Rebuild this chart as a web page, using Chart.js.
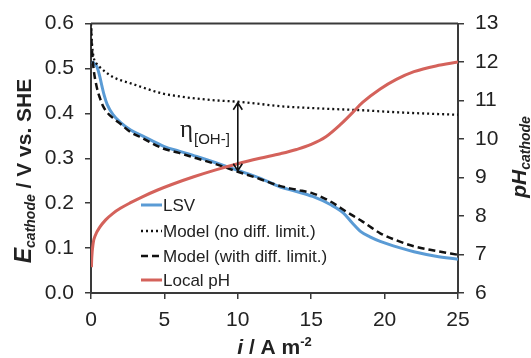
<!DOCTYPE html>
<html>
<head>
<meta charset="utf-8">
<script src="https://cdn.jsdelivr.net/npm/chart.js@4/dist/chart.umd.min.js"></script>
<style>
  body { margin: 0; background: #fff; }
  #wrap { width: 531px; height: 358px; }
</style>
</head>
<body>
<div id="wrap"><canvas id="chart" width="531" height="358"></canvas></div>
<script>
// ---------- data ----------
const xTicks = [0, 5, 10, 15, 20, 25];
const eTicks = [0, 0.1, 0.2, 0.3, 0.4, 0.5, 0.6];
const phTicks = [6, 7, 8, 9, 10, 11, 12, 13];

const lsvX = [0.05, 0.2, 0.4, 0.6, 0.75, 0.9, 1.1, 1.5, 2, 2.7, 3.5, 5, 6, 7.2, 8.5, 10, 11.5, 12.9, 14, 15.1, 16.3, 17.2, 17.8, 18.4, 19, 19.7, 21, 22, 23.5, 25];
const lsvY = [0.515, 0.512, 0.504, 0.482, 0.46, 0.44, 0.42, 0.397, 0.38, 0.363, 0.35, 0.326, 0.316, 0.304, 0.29, 0.273, 0.256, 0.236, 0.226, 0.215, 0.197, 0.178, 0.156, 0.136, 0.125, 0.115, 0.101, 0.092, 0.082, 0.075];

const noLimX = [0, 0.03, 0.08, 0.15, 0.25, 0.4, 0.6, 1, 1.5, 2, 2.7, 3.5, 4.9, 6, 7.2, 8.5, 10, 11.5, 12.9, 15, 17, 18.5, 20, 22.5, 25];
const noLimY = [0.6, 0.575, 0.55, 0.53, 0.517, 0.51, 0.503, 0.492, 0.481, 0.474, 0.467, 0.458, 0.444, 0.438, 0.433, 0.429, 0.426, 0.421, 0.416, 0.412, 0.409, 0.407, 0.404, 0.4, 0.397];

const withLimX = [0, 0.05, 0.16, 0.39, 0.6, 0.84, 1.1, 1.52, 2, 2.66, 3.5, 4.9, 6, 7.2, 8.5, 10, 11.5, 12.9, 14, 15.1, 16.3, 17.4, 18.5, 19.7, 21, 22, 23.5, 25];
const withLimY = [0.59, 0.55, 0.504, 0.459, 0.435, 0.415, 0.402, 0.389, 0.377, 0.359, 0.345, 0.322, 0.312, 0.3, 0.287, 0.27, 0.254, 0.238, 0.23, 0.222, 0.204, 0.181, 0.159, 0.133, 0.115, 0.104, 0.094, 0.085];

const phX = [0.03, 0.05, 0.15, 0.3, 0.6, 1, 1.5, 2, 2.66, 3.5, 4.5, 5.5, 7, 8.5, 10, 11.5, 12.9, 14, 15, 16, 17, 17.8, 18.5, 19.7, 20.8, 22, 23.5, 25];
const phY = [6.67, 6.9, 7.3, 7.5, 7.71, 7.9, 8.07, 8.2, 8.34, 8.5, 8.67, 8.82, 9.02, 9.2, 9.36, 9.5, 9.62, 9.73, 9.86, 10.06, 10.38, 10.68, 10.95, 11.3, 11.55, 11.75, 11.9, 12.0];

// overpotential arrow at i = 10
const etaX = 10;
const etaTop = 0.426;
const etaBottom = 0.27;

const toPts = (xs, ys) => xs.map((x, i) => ({ x: x, y: ys[i] }));

const FONT = "'Liberation Sans', Arial, sans-serif";
const AXIS = "#3a3a3a";
const TEXT = "#222";

// ---------- plugins ----------
const frame = {
  id: "frame",
  afterDraw(chart) {
    const { ctx, chartArea: a } = chart;
    ctx.save();
    ctx.strokeStyle = AXIS;
    ctx.lineWidth = 2;
    ctx.beginPath();
    ctx.moveTo(a.left, a.top);
    ctx.lineTo(a.right, a.top);
    ctx.stroke();
    ctx.restore();
  },
};

// text made of pieces: [text, font, baseline shift]
function drawPieces(ctx, pieces, cx, cy) {
  let total = 0;
  pieces.forEach((p) => { ctx.font = p[1]; total += ctx.measureText(p[0]).width; });
  let x = cx - total / 2;
  pieces.forEach((p) => {
    ctx.font = p[1];
    ctx.fillText(p[0], x, cy + p[2]);
    x += ctx.measureText(p[0]).width;
  });
}

const titles = {
  id: "titles",
  afterDraw(chart) {
    const ctx = chart.ctx;
    const a = chart.chartArea;
    ctx.save();
    ctx.fillStyle = TEXT;
    ctx.textBaseline = "alphabetic";
    ctx.textAlign = "left";

    // left axis title
    ctx.save();
    ctx.translate(31, 171);
    ctx.rotate(-Math.PI / 2);
    drawPieces(ctx, [
      ["E", "italic bold 23px " + FONT, 0],
      ["cathode", "italic bold 14px " + FONT, 4],
      [" / V vs. SHE", "bold 21px " + FONT, 0],
    ], 0, 0);
    ctx.restore();

    // right axis title
    ctx.save();
    ctx.translate(526, 157);
    ctx.rotate(-Math.PI / 2);
    drawPieces(ctx, [
      ["pH", "italic bold 21px " + FONT, 0],
      ["cathode", "italic bold 14px " + FONT, 4],
    ], 0, 0);
    ctx.restore();

    // x axis title
    drawPieces(ctx, [
      ["i", "italic bold 21px " + FONT, 0],
      [" / A m", "bold 21px " + FONT, 0],
      ["-2", "bold 13px " + FONT, -8],
    ], (a.left + a.right) / 2, 354);
    ctx.restore();
  },
};

const etaArrow = {
  id: "etaArrow",
  afterDatasetsDraw(chart) {
    const { ctx, scales } = chart;
    const x = scales.x.getPixelForValue(etaX);
    const y1 = scales.y.getPixelForValue(etaTop);
    const y2 = scales.y.getPixelForValue(etaBottom);
    ctx.save();
    ctx.strokeStyle = "#111";
    ctx.lineWidth = 1.6;
    ctx.beginPath();
    ctx.moveTo(x, y1 + 1);
    ctx.lineTo(x, y2 - 1);
    ctx.moveTo(x - 4.5, y1 + 8);
    ctx.lineTo(x, y1 + 1);
    ctx.lineTo(x + 4.5, y1 + 8);
    ctx.moveTo(x - 4.5, y2 - 8);
    ctx.lineTo(x, y2 - 1);
    ctx.lineTo(x + 4.5, y2 - 8);
    ctx.stroke();

    // label η[OH-]
    ctx.fillStyle = TEXT;
    ctx.textBaseline = "alphabetic";
    ctx.textAlign = "right";
    const ly = scales.y.getPixelForValue(0.348);
    ctx.font = "15px " + FONT;
    const sub = "[OH-]";
    const subW = ctx.measureText(sub).width;
    const right = x - 8;
    ctx.fillText(sub, right, ly + 7);
    ctx.font = "25px 'Liberation Serif', 'DejaVu Serif', serif";
    ctx.fillText("η", right - subW - 1, ly);
    ctx.restore();
  },
};

const legendBox = {
  id: "legendBox",
  afterDraw(chart) {
    const ctx = chart.ctx;
    const rows = [205, 231, 256, 280];
    ctx.save();
    ctx.font = "17px " + FONT;
    ctx.textBaseline = "middle";
    ctx.textAlign = "left";
    chart.data.datasets.forEach((ds, k) => {
      const y = rows[k];
      ctx.strokeStyle = ds.borderColor;
      ctx.lineWidth = ds.borderWidth;
      ctx.setLineDash(ds.borderDash || []);
      ctx.beginPath();
      ctx.moveTo(141, y);
      ctx.lineTo(162, y);
      ctx.stroke();
      ctx.setLineDash([]);
      ctx.fillStyle = TEXT;
      ctx.fillText(ds.label, 163, y + 1);
    });
    ctx.restore();
  },
};

// ---------- chart ----------
const tickFont = { family: FONT, size: 21 };

new Chart(document.getElementById("chart"), {
  type: "line",
  data: {
    datasets: [
      {
        label: "LSV",
        data: toPts(lsvX, lsvY),
        borderColor: "#5a9bd5",
        borderWidth: 3,
        yAxisID: "y",
        order: 4,
      },
      {
        label: "Model (no diff. limit.)",
        data: toPts(noLimX, noLimY),
        borderColor: "#111",
        borderWidth: 2.3,
        borderDash: [2, 3],
        yAxisID: "y",
        order: 3,
      },
      {
        label: "Model (with diff. limit.)",
        data: toPts(withLimX, withLimY),
        borderColor: "#111",
        borderWidth: 2.5,
        borderDash: [7, 4],
        yAxisID: "y",
        order: 2,
      },
      {
        label: "Local pH",
        data: toPts(phX, phY),
        borderColor: "#d4625b",
        borderWidth: 3,
        yAxisID: "y1",
        order: 1,
      },
    ],
  },
  options: {
    responsive: false,
    animation: false,
    devicePixelRatio: 1,
    layout: { padding: { top: 23, left: 0, right: 0, bottom: 0 } },
    elements: {
      point: { radius: 0 },
      line: { cubicInterpolationMode: "monotone", fill: false },
    },
    plugins: { legend: { display: false }, tooltip: { enabled: false } },
    scales: {
      x: {
        type: "linear",
        min: 0,
        max: 25,
        afterFit: (s) => { s.height = 65; },
        afterBuildTicks: (s) => { s.ticks = xTicks.map((v) => ({ value: v })); },
        border: { display: true, color: AXIS, width: 2 },
        grid: { drawOnChartArea: false, drawTicks: true, tickLength: 6, color: AXIS, lineWidth: 1.5 },
        ticks: { font: tickFont, color: TEXT, padding: 9, maxRotation: 0, callback: (v) => String(v) },
      },
      y: {
        type: "linear",
        position: "left",
        min: 0,
        max: 0.6,
        afterFit: (s) => { s.width = 91; },
        afterBuildTicks: (s) => { s.ticks = eTicks.map((v) => ({ value: v })); },
        border: { display: true, color: AXIS, width: 2 },
        grid: { drawOnChartArea: false, drawTicks: true, tickLength: 6, color: AXIS, lineWidth: 1.5 },
        ticks: { font: tickFont, color: TEXT, padding: 11, callback: (v) => Number(v).toFixed(1) },
      },
      y1: {
        type: "linear",
        position: "right",
        min: 6,
        max: 13,
        afterFit: (s) => { s.width = 73; },
        afterBuildTicks: (s) => { s.ticks = phTicks.map((v) => ({ value: v })); },
        border: { display: true, color: AXIS, width: 2 },
        grid: { drawOnChartArea: false, drawTicks: true, tickLength: 6, color: AXIS, lineWidth: 1.5 },
        ticks: { font: tickFont, color: TEXT, padding: 11, callback: (v) => String(v) },
      },
    },
  },
  plugins: [frame, etaArrow, legendBox, titles],
});
</script>
</body>
</html>
